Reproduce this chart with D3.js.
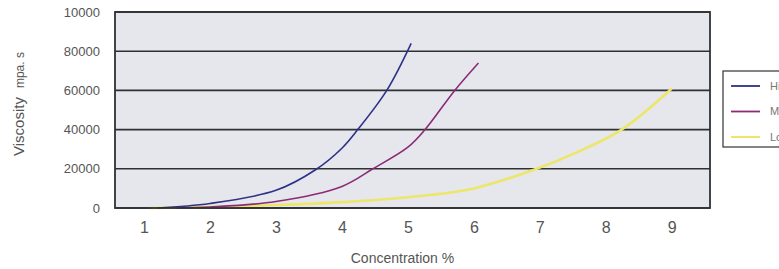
<!DOCTYPE html>
<html>
<head>
<meta charset="utf-8">
<script src="https://cdn.jsdelivr.net/npm/d3@7"></script>
<style>
  body { margin: 0; background: #fff; }
  svg { display: block; font-family: "Liberation Sans", Arial, sans-serif; }
</style>
</head>
<body>
<div id="main"></div>
<script>
// values
const seriesNames = ["High", "Middle", "Low"];
const seriesColors = ["#2e3187", "#8c2a78", "#ece66a"];
const highData = [[1.2, 0], [2, 2300], [3, 9000], [3.6, 19500], [4, 30500], [4.24, 40000], [4.68, 60000], [5.05, 84000]];
const middleData = [[1.5, 0], [2, 500], [3, 3300], [4, 11000], [4.47, 20000], [5, 31000], [5.26, 40000], [5.71, 60000], [6.07, 74000]];
const lowData = [[1.1, 0], [2, 500], [3, 1500], [4, 3000], [5, 5500], [6, 10000], [6.95, 20000], [7.5, 27500], [8.24, 40000], [9, 61000]];
const xTicks = [1, 2, 3, 4, 5, 6, 7, 8, 9];
const yTicks = [0, 20000, 40000, 60000, 80000, 100000];
const yTickLabels = ["0", "20000", "40000", "60000", "80000", "10000"];

const width = 779, height = 269;
const plot = { left: 115, right: 710, top: 12, bottom: 208 };

const svg = d3.select("#main").append("svg")
    .attr("width", width)
    .attr("height", height);

const x = d3.scaleLinear()
    .domain([0.56, 9.58])
    .range([plot.left, plot.right]);

const y = d3.scaleLinear()
    .domain([0, 100000])
    .range([plot.bottom, plot.top]);

// plot background
svg.append("rect")
    .attr("x", plot.left)
    .attr("y", plot.top)
    .attr("width", plot.right - plot.left)
    .attr("height", plot.bottom - plot.top)
    .attr("fill", "#e5e7ec");

// horizontal grid lines
svg.append("g")
    .selectAll("line")
    .data(yTicks)
    .join("line")
    .attr("x1", plot.left)
    .attr("x2", plot.right)
    .attr("y1", d => y(d))
    .attr("y2", d => y(d))
    .attr("stroke", "#2f3133")
    .attr("stroke-width", 1.6);

// y axis labels
const yAxis = svg.append("g")
    .attr("transform", `translate(${plot.left},0)`)
    .call(d3.axisLeft(y).tickValues(yTicks).tickSize(0).tickPadding(15)
        .tickFormat((d, i) => yTickLabels[i]));
yAxis.select(".domain").remove();
yAxis.selectAll("text")
    .attr("fill", "#555")
    .style("font-size", "13px");

// x axis labels
const xAxis = svg.append("g")
    .attr("transform", `translate(0,${plot.bottom})`)
    .call(d3.axisBottom(x).tickValues(xTicks).tickSize(0).tickPadding(14)
        .tickFormat(d3.format("d")));
xAxis.select(".domain").remove();
xAxis.selectAll("text")
    .attr("fill", "#555")
    .style("font-size", "16px");

// curves
const line = d3.line()
    .x(d => x(d[0]))
    .y(d => y(d[1]))
    .curve(d3.curveCatmullRom.alpha(0.5));

const allSeries = [highData, middleData, lowData];
const widths = [1.6, 1.6, 2.6];

// draw low first so the others sit on top of it
[2, 1, 0].forEach(i => {
    svg.append("path")
        .datum(allSeries[i])
        .attr("d", line)
        .attr("fill", "none")
        .attr("stroke", seriesColors[i])
        .attr("stroke-width", widths[i]);
});

// plot frame
svg.append("rect")
    .attr("x", plot.left)
    .attr("y", plot.top)
    .attr("width", plot.right - plot.left)
    .attr("height", plot.bottom - plot.top)
    .attr("fill", "none")
    .attr("stroke", "#2f3133")
    .attr("stroke-width", 1.8);

// axis titles
svg.append("text")
    .attr("x", (plot.left + plot.right) / 2 - 10)
    .attr("y", 263)
    .attr("text-anchor", "middle")
    .attr("fill", "#555")
    .style("font-size", "14px")
    .text("Concentration %");

const yTitle = svg.append("text")
    .attr("transform", "translate(24,104) rotate(-90)")
    .attr("text-anchor", "middle")
    .attr("fill", "#555");
yTitle.append("tspan")
    .style("font-size", "15px")
    .text("Viscosity");
yTitle.append("tspan")
    .attr("dx", 9)
    .style("font-size", "12px")
    .text("mpa. s");

// legend (runs off the right edge, as in the picture)
const legend = svg.append("g");
legend.append("rect")
    .attr("x", 723)
    .attr("y", 71)
    .attr("width", 80)
    .attr("height", 76)
    .attr("fill", "#fff")
    .attr("stroke", "#333")
    .attr("stroke-width", 1.2);

legend.selectAll("line")
    .data(seriesNames)
    .join("line")
    .attr("x1", 731)
    .attr("x2", 760)
    .attr("y1", (d, i) => 86 + i * 25.5)
    .attr("y2", (d, i) => 86 + i * 25.5)
    .attr("stroke", (d, i) => seriesColors[i])
    .attr("stroke-width", (d, i) => i === 2 ? 2 : 1.8);

legend.selectAll("text")
    .data(seriesNames)
    .join("text")
    .attr("x", 770)
    .attr("y", (d, i) => 86 + i * 25.5)
    .attr("dy", "0.35em")
    .attr("fill", "#777")
    .style("font-size", "11px")
    .text(d => d);
</script>
</body>
</html>
